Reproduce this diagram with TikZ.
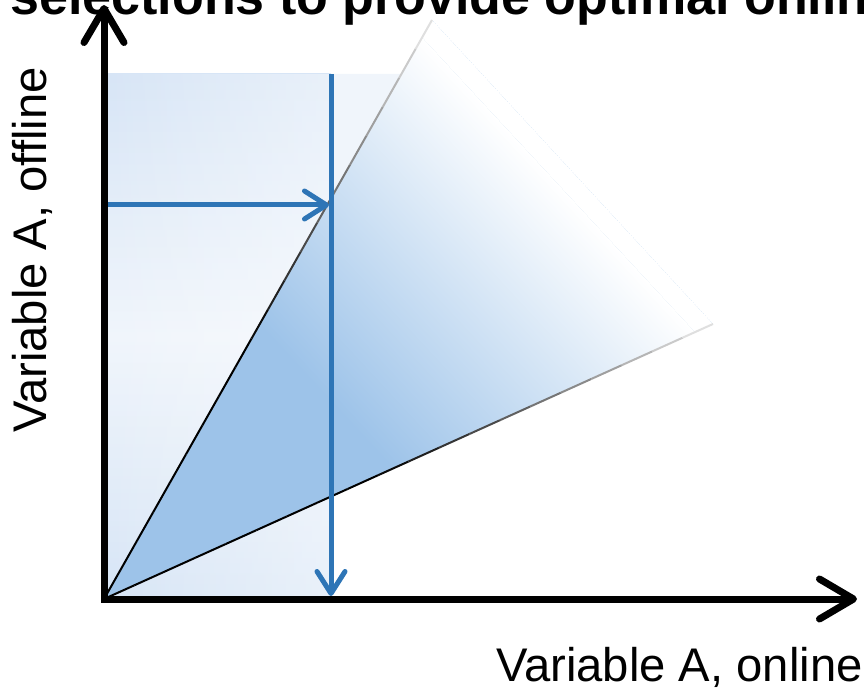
\documentclass[tikz,border=0pt]{standalone}
\usepackage{fontspec}
\setmainfont{Liberation Sans}
\usetikzlibrary{arrows.meta,calc,fadings}

\definecolor{selblue}{RGB}{46,117,182}
\definecolor{fanblue}{RGB}{157,195,233}
\definecolor{boxblue}{RGB}{215,229,246}
\definecolor{boxpale}{RGB}{240,245,251}

\tikzfading[name=boxfade, left color=transparent!100, right color=transparent!55]

\tikzset{
  axtip/.tip={Straight Barb[length=17pt,width=20pt,round]},
  seltip/.tip={Straight Barb[length=11pt,width=14pt,round]},
  axisline/.style={line width=3.5pt, line join=miter, axtip-axtip},
  selline/.style={selblue, line width=2.5pt, -seltip},
  fanedge/.style={line width=1pt, line cap=butt},
  axislabel/.style={font=\fontsize{23.6}{28}\selectfont, inner sep=0pt},
  titletext/.style={font=\fontsize{26}{31}\selectfont\bfseries, inner sep=0pt}
}

\begin{document}
\begin{tikzpicture}[x=0.5pt, y=0.5pt]
  \clip (0,0) rectangle (864,698);

  %% Key points
  \coordinate (O)    at (104,99);
  \coordinate (ytip) at (104,693);
  \coordinate (xtip) at (857,99);
  \coordinate (U)    at (432,678);
  \coordinate (L)    at (713,374);
  \coordinate (vtop) at (331,624);
  \coordinate (vtip) at (331,102);
  \coordinate (hbeg) at (106,493);
  \coordinate (htip) at (329,493);

  %% Selection box (light, fading to the right)
  \shade[top color=boxblue, bottom color=boxblue, middle color=boxpale] (O) rectangle (vtop);
  \fill[white, path fading=boxfade] (O) rectangle (vtop);
  \fill[boxpale] (vtop) -- (401,624) -- (331,493) -- cycle;

  %% Fan between the two bounds
  \begin{scope}
    \clip (O) -- (U) -- (L) -- cycle;
    \fill[fanblue] (O) -- (U) -- (L) -- cycle;
    \begin{scope}[transform canvas={shift={(O)}, rotate=42.8}]
      \shade[left color=fanblue, right color=white] (300,-500) rectangle (615,500);
      \fill[white] (615,-500) rectangle (700,500);
    \end{scope}
  \end{scope}

  %% Fan edges, black near the origin, fading out
  \foreach \i in {0,...,19}{
    \pgfmathsetmacro{\tA}{\i/20}
    \pgfmathsetmacro{\tB}{(\i+1)/20}
    \pgfmathsetmacro{\shadeval}{min(100,max(0,(1.05-(\i+0.5)/20)/0.6*100))}
    \draw[fanedge, draw=black!\shadeval] ($(O)!\tA!(U)$) -- ($(O)!\tB!(U)$);
    \draw[fanedge, draw=black!\shadeval] ($(O)!\tA!(L)$) -- ($(O)!\tB!(L)$);
  }

  %% Selection arrows
  \draw[selline] (hbeg) -- (htip);
  \draw[selline] (vtop) -- (vtip);

  %% Axes
  \draw[axisline] (ytip) |- (xtip);

  %% Labels
  \node[axislabel, anchor=base east] (xlabel) at (863,17) {Variable A, online};
  \node[axislabel, anchor=base, rotate=90] (ylabel) at (47,448) {Variable A, offline};
  \node[titletext, anchor=base west] (title) at (10,683) {selections to provide optimal online};
\end{tikzpicture}
\end{document}
